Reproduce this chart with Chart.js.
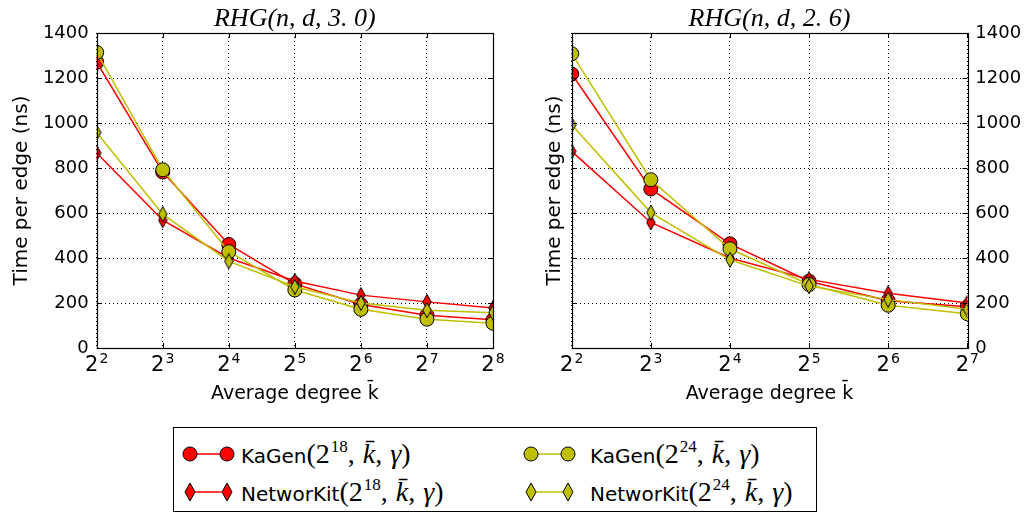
<!DOCTYPE html>
<html>
<head>
<meta charset="utf-8">
<script src="https://cdn.jsdelivr.net/npm/chart.js@4/dist/chart.umd.min.js"></script>
<style>
  html, body { margin: 0; padding: 0; background: #fff; }
  #wrap { position: relative; width: 1028px; height: 515px; background: #fff; overflow: hidden; }
  canvas.ch { position: absolute; top: 0; }
  #legend { position: absolute; left: 173px; top: 427px; width: 644px; height: 85px; border: 1px solid #000; box-sizing: border-box; background: #fff; }
  .mk { position: absolute; }
  .txt { position: absolute; height: 30px; line-height: 30px; white-space: nowrap; }
  .lbl { font-family: 'DejaVu Sans', sans-serif; font-size: 20px; color: #000; }
  .m { font-family: 'Liberation Serif', 'DejaVu Serif', serif; font-size: 28px; color: #000; }
  .m i { font-style: italic; }
  .m .sp { display: inline-block; width: 8px; }
  .m sup { font-size: 17px; vertical-align: 11px; line-height: 0; margin-left: 1px; }
</style>
</head>
<body>
<div id="wrap">
  <canvas id="c1" class="ch" width="514" height="420" style="left:0px;width:514px;height:420px"></canvas>
  <canvas id="c2" class="ch" width="514" height="420" style="left:514px;width:514px;height:420px"></canvas>
  <div id="legend"></div>
</div>
<script>
// ---- data ----
const leftTitle = 'RHG(n, d, 3. 0)';
const rightTitle = 'RHG(n, d, 2. 6)';
const leftDegrees = [4, 8, 16, 32, 64, 128, 256];
const rightDegrees = [4, 8, 16, 32, 64, 128];
const seriesNames = ['KaGen', 'NetworKit', 'KaGen', 'NetworKit'];
const seriesExp = ['18', '18', '24', '24'];
const leftKaGen18 = [1270, 782, 460, 285, 193, 146, 125];
const leftNetworKit18 = [867, 568, 400, 298, 235, 205, 178];
const leftKaGen24 = [1314, 792, 428, 258, 172, 128, 110];
const leftNetworKit24 = [958, 595, 385, 272, 200, 168, 157];
const rightKaGen18 = [1218, 707, 463, 297, 210, 183];
const rightNetworKit18 = [874, 558, 400, 305, 243, 200];
const rightKaGen24 = [1308, 748, 441, 282, 190, 152];
const rightNetworKit24 = [992, 602, 392, 275, 215, 172];
const yTicks = [0, 200, 400, 600, 800, 1000, 1200, 1400];
const yLabel = 'Time per edge (ns)';
const xLabel = 'Average degree k\u0304';

const RED = '#ff0000';
const YEL = '#bfbf00';

function diamondImg(fill) {
  const w = 10, h = 16;
  const c = document.createElement('canvas');
  c.width = w; c.height = h;
  const g = c.getContext('2d');
  g.beginPath();
  g.moveTo(w / 2, 0.5); g.lineTo(w - 0.8, h / 2); g.lineTo(w / 2, h - 0.5); g.lineTo(0.8, h / 2); g.closePath();
  g.fillStyle = fill; g.fill();
  g.lineWidth = 1; g.strokeStyle = '#000'; g.stroke();
  return c;
}
const dRed = diamondImg(RED), dYel = diamondImg(YEL);

function pts(deg, vals) { return deg.map((d, i) => ({ x: Math.log2(d), y: vals[i] })); }

function makeSets(deg, k18, n18, k24, n24) {
  const base = { borderWidth: 1.5, clip: 0, tension: 0, pointBorderColor: '#000', pointBorderWidth: 1 };
  return [
    Object.assign({}, base, { label: 'KaGen18', data: pts(deg, k18), borderColor: RED, backgroundColor: RED, pointBackgroundColor: RED, pointStyle: 'circle', pointRadius: 7, order: 3 }),
    Object.assign({}, base, { label: 'NetworKit18', data: pts(deg, n18), borderColor: RED, backgroundColor: RED, pointStyle: dRed, order: 2 }),
    Object.assign({}, base, { label: 'KaGen24', data: pts(deg, k24), borderColor: YEL, backgroundColor: YEL, pointBackgroundColor: YEL, pointStyle: 'circle', pointRadius: 7, order: 1 }),
    Object.assign({}, base, { label: 'NetworKit24', data: pts(deg, n24), borderColor: YEL, backgroundColor: YEL, pointStyle: dYel, order: 0 })
  ];
}

// plugin: frame, inward ticks, x tick labels as 2^n, title centred over plot area
const framePlugin = {
  id: 'frame',
  afterDraw(chart, args, opts) {
    const { ctx, chartArea: a } = chart;
    const xs = chart.scales.x, ys = chart.scales.y;
    ctx.save();
    ctx.strokeStyle = '#000';
    ctx.lineWidth = 1;
    ctx.beginPath();
    xs.ticks.forEach(t => {
      const px = Math.round(xs.getPixelForValue(t.value)) + 0.5;
      ctx.moveTo(px, a.bottom); ctx.lineTo(px, a.bottom - 5);
      ctx.moveTo(px, a.top); ctx.lineTo(px, a.top + 5);
    });
    ys.ticks.forEach(t => {
      const py = Math.round(ys.getPixelForValue(t.value)) + 0.5;
      ctx.moveTo(a.left, py); ctx.lineTo(a.left + 5, py);
      ctx.moveTo(a.right, py); ctx.lineTo(a.right - 5, py);
    });
    ctx.stroke();
    ctx.lineWidth = 1.2;
    ctx.strokeRect(Math.round(a.left) + 0.5, Math.round(a.top) + 0.5, Math.round(a.right - a.left), Math.round(a.bottom - a.top));
    // x tick labels 2^n
    ctx.fillStyle = '#000';
    ctx.textBaseline = 'alphabetic';
    xs.ticks.forEach(t => {
      const base = '2', exp = String(t.value);
      ctx.font = '21px "DejaVu Sans"';
      const wb = ctx.measureText(base).width;
      ctx.font = '14px "DejaVu Sans"';
      const we = ctx.measureText(exp).width;
      const cx = xs.getPixelForValue(t.value);
      const x0 = cx - (wb + 1 + we) / 2;
      ctx.font = '21px "DejaVu Sans"';
      ctx.textAlign = 'left';
      ctx.fillText(base, x0, 371);
      ctx.font = '14px "DejaVu Sans"';
      ctx.fillText(exp, x0 + wb + 1, 363);
    });
    // title
    ctx.font = 'italic 26px "Liberation Serif"';
    ctx.textAlign = 'center';
    ctx.fillText(opts.text, (a.left + a.right) / 2, 26);
    ctx.restore();
  }
};

function makeChart(id, title, deg, sets, isRight) {
  const maxExp = Math.log2(deg[deg.length - 1]);
  const tickFont = { family: 'DejaVu Sans', size: 18 };
  const scales = {
    x: {
      type: 'linear', min: 2, max: maxExp,
      ticks: { stepSize: 1, display: false },
      grid: { color: '#000', lineWidth: 1, borderDash: [1, 3], drawTicks: false },
      border: { display: false, dash: [1, 3] },
      title: { display: true, text: xLabel, color: '#000', font: { family: 'DejaVu Sans', size: 19 }, padding: { top: 0, bottom: 15 } },
      afterFit(s) { s.height = 72; }
    },
    y: {
      min: 0, max: 1400,
      afterBuildTicks(s) { s.ticks = yTicks.map(v => ({ value: v })); },
      ticks: { display: !isRight, color: '#000', font: tickFont, padding: 8, callback: v => String(v) },
      grid: { color: '#000', lineWidth: 1, borderDash: [1, 3], drawTicks: false },
      border: { display: false, dash: [1, 3] },
      title: { display: true, text: yLabel, color: '#000', font: { family: 'DejaVu Sans', size: 20 }, padding: { top: isRight ? 29 : 10, bottom: 0 } },
      afterFit(s) { s.width = isRight ? 57.7 : 96.7; }
    }
  };
  if (isRight) {
    scales.y2 = {
      position: 'right', min: 0, max: 1400,
      afterBuildTicks(s) { s.ticks = yTicks.map(v => ({ value: v })); },
      ticks: { color: '#000', font: tickFont, padding: 8, callback: v => String(v) },
      grid: { display: false, drawTicks: false },
      border: { display: false },
      afterFit(s) { s.width = 60.7; }
    };
  }
  return new Chart(document.getElementById(id), {
    type: 'line',
    data: { datasets: sets },
    options: {
      responsive: false, animation: false, devicePixelRatio: 1,
      layout: { padding: { left: 0, right: isRight ? 0 : 21, top: 33, bottom: 0 } },
      plugins: {
        legend: { display: false },
        tooltip: { enabled: false },
        title: { display: false },
        frame: { text: title }
      },
      scales
    },
    plugins: [framePlugin]
  });
}

makeChart('c1', leftTitle, leftDegrees, makeSets(leftDegrees, leftKaGen18, leftNetworKit18, leftKaGen24, leftNetworKit24), false);
makeChart('c2', rightTitle, rightDegrees, makeSets(rightDegrees, rightKaGen18, rightNetworKit18, rightKaGen24, rightNetworKit24), true);

// ---- legend (HTML) ----
function markerSvg(color, circle) {
  const shape = (cx) => circle
    ? `<circle cx="${cx}" cy="11" r="7" fill="${color}" stroke="#000" stroke-width="1"/>`
    : `<polygon points="${cx},2 ${cx + 5},11 ${cx},20 ${cx - 5},11" fill="${color}" stroke="#000" stroke-width="1"/>`;
  return `<svg width="54" height="22" viewBox="0 0 54 22"><line x1="8" y1="11" x2="45" y2="11" stroke="${color}" stroke-width="1.5"/>${shape(8)}${shape(45)}</svg>`;
}
// [marker left, text left, row top] inside legend box
const legendPos = [[8, 67, 11], [8, 67, 49], [349, 416, 11], [349, 416, 49]];
const legendColors = [RED, RED, YEL, YEL];
const legendCircle = [true, false, true, false];
const leg = document.getElementById('legend');
seriesNames.forEach((n, i) => {
  const mk = document.createElement('div');
  mk.className = 'mk';
  mk.style.left = legendPos[i][0] + 'px';
  mk.style.top = (legendPos[i][2] + 4) + 'px';
  mk.innerHTML = markerSvg(legendColors[i], legendCircle[i]);
  leg.appendChild(mk);
  const t = document.createElement('div');
  t.className = 'txt';
  t.style.left = legendPos[i][1] + 'px';
  t.style.top = legendPos[i][2] + 'px';
  t.innerHTML = `<span class="lbl">${n}</span><span class="m">(2<sup>${seriesExp[i]}</sup>,<span class="sp"></span><i>k\u0304</i>,<span class="sp"></span><i>\u03b3</i>)</span>`;
  leg.appendChild(t);
});
</script>
</body>
</html>
